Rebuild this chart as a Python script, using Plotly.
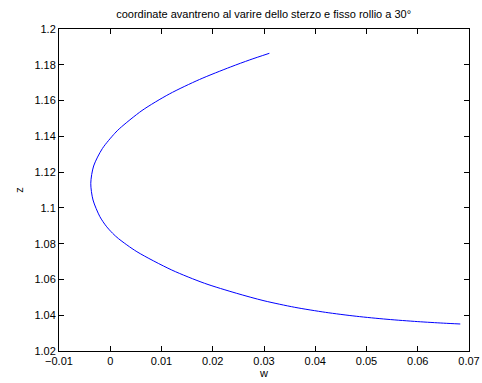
import plotly.graph_objects as go

w = [0.03105, 0.02722, 0.02350, 0.01741, 0.01152, 0.00620, 0.00187, 0.00089,
     -0.00153, -0.00324, -0.00380, -0.00336, -0.00202, -0.00078, 0.00046, 0.00160,
     0.00520, 0.01200, 0.01840, 0.02460, 0.03000, 0.03600, 0.04200, 0.04800,
     0.05400, 0.06000, 0.06500, 0.06830]
z = [1.18642, 1.18273, 1.17881, 1.17177, 1.16366, 1.15444, 1.14449, 1.14170,
     1.13320, 1.12342, 1.11375, 1.10441, 1.09508, 1.08977, 1.08580, 1.08283,
     1.07551, 1.06528, 1.05785, 1.05230, 1.04809, 1.04443, 1.04161, 1.03942,
     1.03773, 1.03643, 1.03557, 1.03510]

x_ticks = [-0.01, 0, 0.01, 0.02, 0.03, 0.04, 0.05, 0.06, 0.07]
x_labels = ["\u22120.01", "0", "0.01", "0.02", "0.03", "0.04", "0.05", "0.06", "0.07"]
y_ticks = [1.02, 1.04, 1.06, 1.08, 1.1, 1.12, 1.14, 1.16, 1.18, 1.2]
y_labels = ["1.02", "1.04", "1.06", "1.08", "1.1", "1.12", "1.14", "1.16", "1.18", "1.2"]

title = "coordinate avantreno al varire dello sterzo e fisso rollio a 30°"

fig = go.Figure()
fig.add_trace(go.Scatter(x=w, y=z, mode="lines",
                         line=dict(color="#0000ff", width=1, shape="spline", smoothing=0.8),
                         showlegend=False, hoverinfo="skip"))

font = dict(family="Liberation Sans, Arial, sans-serif", size=11, color="black")
axis_common = dict(showgrid=False, zeroline=False, showline=True, linecolor="black",
                   linewidth=1, mirror="ticks", ticks="inside", ticklen=5,
                   tickcolor="black", tickwidth=1, tickfont=font, automargin=False)

fig.update_layout(
    width=482, height=383,
    margin=dict(l=59, r=13, t=29, b=32, autoexpand=False),
    paper_bgcolor="white", plot_bgcolor="white",
    font=font,
    title=dict(text=title, x=0.547, xanchor="center", y=0.962, yanchor="middle",
               font=dict(family="Liberation Sans, Arial, sans-serif", size=11, color="black")),
    xaxis=dict(range=[-0.01, 0.07], tickvals=x_ticks, ticktext=x_labels,
               title=dict(text="w", standoff=2, font=font), **axis_common),
    yaxis=dict(range=[1.02, 1.2], tickvals=y_ticks, ticktext=y_labels,
               title=dict(text="z", standoff=8, font=font), **axis_common),
)

fig.write_html("out.html")
